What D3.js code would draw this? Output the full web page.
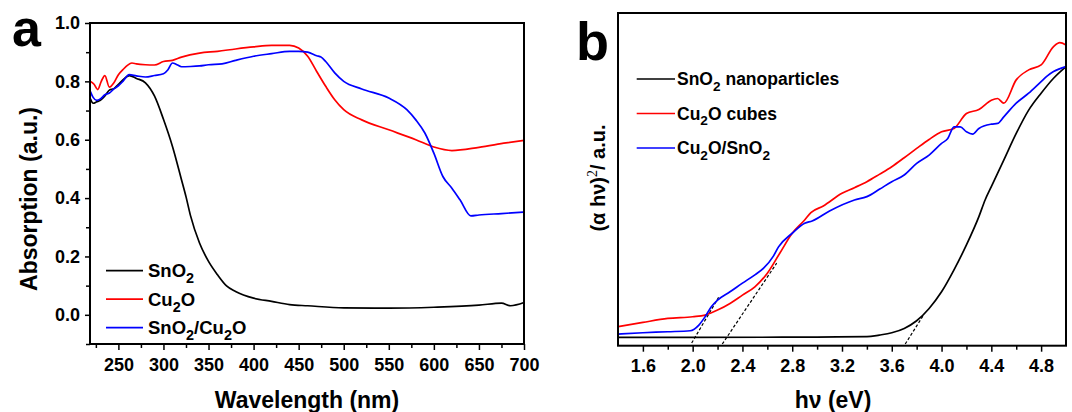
<!DOCTYPE html>
<html>
<head>
<meta charset="utf-8">
<script src="https://cdn.jsdelivr.net/npm/d3@7"></script>
<style>
  body { margin: 0; background: #fff; }
  svg text { font-family: "Liberation Sans", Arial, sans-serif; font-weight: bold; fill: #000; }
</style>
</head>
<body>
<svg id="fig" width="1072" height="412"></svg>
<script>
"use strict";

// ---- panel a: absorption spectra ----
var snWl  = [219,222,226,230,235,240,245,250,255,262,270,280,290,300,310,320,325,330,340,350,360,370,380,400,420,440,460,500,550,600,650,675,685,700];
var snAbs = [0.74,0.725,0.73,0.735,0.75,0.77,0.775,0.79,0.805,0.82,0.81,0.795,0.75,0.67,0.577,0.463,0.405,0.34,0.246,0.183,0.137,0.099,0.08,0.057,0.046,0.035,0.031,0.024,0.023,0.026,0.033,0.04,0.031,0.042];

var cuWl  = [219,223,227,231,235,240,245,250,255,260,265,270,280,290,300,310,320,340,360,380,400,420,440,450,460,470,480,490,500,520,550,580,600,620,650,680,700];
var cuAbs = [0.80,0.79,0.772,0.80,0.82,0.78,0.795,0.823,0.84,0.855,0.863,0.86,0.857,0.856,0.868,0.872,0.883,0.897,0.903,0.911,0.918,0.923,0.923,0.914,0.886,0.834,0.783,0.737,0.703,0.668,0.634,0.60,0.575,0.563,0.574,0.589,0.598];

var mixWl  = [219,222,226,230,235,240,245,250,255,262,270,280,290,300,305,310,315,320,330,340,350,365,380,400,420,440,450,460,470,475,480,490,500,520,550,570,580,590,600,610,620,629,641,650,675,700];
var mixAbs = [0.765,0.745,0.735,0.74,0.754,0.76,0.774,0.785,0.80,0.823,0.819,0.815,0.82,0.826,0.84,0.863,0.857,0.85,0.851,0.853,0.857,0.86,0.872,0.886,0.895,0.903,0.903,0.90,0.888,0.883,0.868,0.829,0.80,0.774,0.743,0.703,0.668,0.623,0.554,0.474,0.434,0.394,0.339,0.342,0.347,0.352];

var aXTicks = [250,300,350,400,450,500,550,600,650,700];
var aYTicks = [0.0,0.2,0.4,0.6,0.8,1.0];

// ---- panel b: Tauc plot ----
var snEv  = [1.4,2.0,3.0,3.4,3.5,3.6,3.7,3.8,3.9,4.0,4.1,4.2,4.3,4.35,4.4,4.5,4.6,4.7,4.8,4.9,5.0];
var snTauc = [0.025,0.025,0.026,0.027,0.032,0.039,0.052,0.075,0.112,0.162,0.228,0.303,0.388,0.438,0.478,0.558,0.638,0.708,0.759,0.804,0.839];

var cuEv   = [1.4,1.6,1.8,2.0,2.1,2.2,2.3,2.4,2.5,2.6,2.7,2.8,2.9,2.95,3.05,3.2,3.3,3.4,3.5,3.6,3.7,3.8,3.9,4.0,4.1,4.2,4.3,4.4,4.45,4.5,4.6,4.7,4.8,4.9,4.95,5.0];
var cuTauc = [0.057,0.070,0.082,0.087,0.092,0.107,0.127,0.152,0.177,0.218,0.278,0.338,0.378,0.40,0.42,0.458,0.475,0.493,0.515,0.538,0.565,0.593,0.62,0.643,0.653,0.698,0.71,0.738,0.743,0.729,0.799,0.829,0.844,0.899,0.911,0.904];

var mixEv   = [1.4,1.6,1.8,1.98,2.05,2.1,2.15,2.2,2.3,2.4,2.5,2.57,2.65,2.69,2.8,2.9,2.96,3.1,3.3,3.4,3.5,3.6,3.7,3.8,3.9,4.0,4.05,4.1,4.15,4.2,4.25,4.3,4.4,4.45,4.5,4.6,4.7,4.8,4.85,4.9,5.0];
var mixTauc = [0.035,0.039,0.042,0.045,0.062,0.087,0.117,0.137,0.162,0.188,0.213,0.233,0.27,0.297,0.338,0.368,0.375,0.405,0.438,0.448,0.47,0.493,0.513,0.548,0.573,0.608,0.623,0.658,0.658,0.643,0.636,0.653,0.666,0.668,0.688,0.729,0.759,0.794,0.811,0.824,0.839];

// band-gap tangent lines (start/end in eV and a.u.)
var tangentEv   = [[1.992,2.211],[2.238,2.675],[3.708,3.855]];
var tangentTauc = [[0.008,0.147],[0.005,0.248],[0.005,0.092]];

var bXTicks = [1.6,2.0,2.4,2.8,3.2,3.6,4.0,4.4,4.8];

var BLACK = "#000000", RED = "#ff0000", BLUE = "#0000ff";

var svg = d3.select("#fig");

function zip(xs, ys) {
  return xs.map(function(x, i) { return [x, ys[i]]; });
}

// text with sub/superscript parts: [["SnO"],["2","sub"]]
function richText(sel, parts, size) {
  parts.forEach(function(p) {
    var t = sel.append("tspan").text(p[0]);
    if (p[1] == "sub") {
      t.attr("font-size", size * 0.78).attr("dy", size * 0.32);
    } else if (p[1] == "sup") {
      t.attr("font-size", size * 0.7).attr("dy", -size * 0.42)
        .style("font-weight", "normal").style("font-family", "'Liberation Serif', serif");
    } else if (p[1] == "back") {
      t.attr("dy", -size * 0.32);
    } else if (p[1] == "down") {
      t.attr("dy", size * 0.42);
    }
  });
  return sel;
}

function drawLine(g, x, y, pts, color) {
  g.append("path")
    .datum(pts)
    .attr("fill", "none")
    .attr("stroke", color)
    .attr("stroke-width", 1.7)
    .attr("stroke-linejoin", "round")
    .attr("d", d3.line().curve(d3.curveMonotoneX)
      .x(function(d) { return x(d[0]); }).y(function(d) { return y(d[1]); }));
}

function styleTicks(s, labels) {
  s.select(".domain").remove();
  s.selectAll("line").attr("stroke-width", 1.5);
  if (labels) s.selectAll("text").attr("font-size", 18).attr("font-family", null);
}

// ================= panel a =================
(function() {
  var L = 90, T = 23, R = 524, B = 344;
  var x = d3.scaleLinear().domain([218.5, 700]).range([L, R]);
  var y = d3.scaleLinear().domain([-0.1, 1.0]).range([B, T]);
  var g = svg.append("g");

  // minor ticks
  g.append("g").attr("transform", "translate(0," + B + ")")
    .call(d3.axisBottom(x).tickValues(d3.range(225, 700, 50)).tickSize(4).tickFormat(""))
    .call(styleTicks, false);
  g.append("g").attr("transform", "translate(" + L + ",0)")
    .call(d3.axisLeft(y).tickValues([-0.1,0.1,0.3,0.5,0.7,0.9]).tickSize(4).tickFormat(""))
    .call(styleTicks, false);

  // major ticks
  g.append("g").attr("transform", "translate(0," + B + ")")
    .call(d3.axisBottom(x).tickValues(aXTicks).tickSize(6).tickPadding(8).tickFormat(d3.format("d")))
    .call(styleTicks, true);
  g.append("g").attr("transform", "translate(" + L + ",0)")
    .call(d3.axisLeft(y).tickValues(aYTicks).tickSize(5).tickPadding(5).tickFormat(d3.format(".1f")))
    .call(styleTicks, true);

  drawLine(g, x, y, zip(snWl, snAbs), BLACK);
  drawLine(g, x, y, zip(cuWl, cuAbs), RED);
  drawLine(g, x, y, zip(mixWl, mixAbs), BLUE);

  g.append("rect").attr("x", L).attr("y", T).attr("width", R - L).attr("height", B - T)
    .attr("fill", "none").attr("stroke", "#000").attr("stroke-width", 2);

  // legend
  var legend = [
    { color: BLACK, parts: [["SnO"],["2","sub"]] },
    { color: RED,   parts: [["Cu"],["2","sub"],["O","back"]] },
    { color: BLUE,  parts: [["SnO"],["2","sub"],["/Cu","back"],["2","sub"],["O","back"]] }
  ];
  legend.forEach(function(d, i) {
    var yy = 270.7 + i * 28.5;
    g.append("line").attr("x1", 106).attr("x2", 143).attr("y1", yy).attr("y2", yy)
      .attr("stroke", d.color).attr("stroke-width", 1.7);
    richText(g.append("text").attr("x", 148).attr("y", yy + 6.5).attr("font-size", 18.5), d.parts, 18.5);
  });

  g.append("text").attr("x", 307).attr("y", 408).attr("text-anchor", "middle")
    .attr("font-size", 23).text("Wavelength (nm)");
  g.append("text").attr("transform", "translate(37,199) rotate(-90)").attr("text-anchor", "middle")
    .attr("font-size", 23).text("Absorption (a.u.)");
  g.append("text").attr("x", 12).attr("y", 46).attr("font-size", 52).text("a");
})();

// ================= panel b =================
(function() {
  var L = 618, T = 13, R = 1066, B = 345.7;
  var x = d3.scaleLinear().domain([1.4, 5.0]).range([L, R]);
  var y = d3.scaleLinear().domain([0, 1]).range([B, T]);
  var g = svg.append("g");

  g.append("g").attr("transform", "translate(0," + B + ")")
    .call(d3.axisBottom(x).tickValues(d3.range(1.8, 5.0, 0.4)).tickSize(4).tickFormat(""))
    .call(styleTicks, false);
  g.append("g").attr("transform", "translate(0," + B + ")")
    .call(d3.axisBottom(x).tickValues(bXTicks).tickSize(6).tickPadding(8).tickFormat(d3.format(".1f")))
    .call(styleTicks, true);

  // tangents
  tangentEv.forEach(function(ev, i) {
    g.append("line")
      .attr("x1", x(ev[0])).attr("y1", y(tangentTauc[i][0]))
      .attr("x2", x(ev[1])).attr("y2", y(tangentTauc[i][1]))
      .attr("stroke", "#000").attr("stroke-width", 1.2).attr("stroke-dasharray", "3,2");
  });

  drawLine(g, x, y, zip(snEv, snTauc), BLACK);
  drawLine(g, x, y, zip(cuEv, cuTauc), RED);
  drawLine(g, x, y, zip(mixEv, mixTauc), BLUE);

  g.append("rect").attr("x", L).attr("y", T).attr("width", R - L).attr("height", B - T)
    .attr("fill", "none").attr("stroke", "#000").attr("stroke-width", 2);

  var legend = [
    { color: BLACK, parts: [["SnO"],["2","sub"],[" nanoparticles","back"]] },
    { color: RED,   parts: [["Cu"],["2","sub"],["O cubes","back"]] },
    { color: BLUE,  parts: [["Cu"],["2","sub"],["O/SnO","back"],["2","sub"]] }
  ];
  legend.forEach(function(d, i) {
    var yy = 79 + i * 34.5;
    g.append("line").attr("x1", 636.7).attr("x2", 675).attr("y1", yy).attr("y2", yy)
      .attr("stroke", d.color).attr("stroke-width", 1.7);
    richText(g.append("text").attr("x", 677).attr("y", yy + 6).attr("font-size", 17.5), d.parts, 17.5);
  });

  g.append("text").attr("x", 833).attr("y", 408).attr("text-anchor", "middle")
    .attr("font-size", 23).text("h\u03BD (eV)");
  var yl = g.append("text").attr("transform", "translate(605,178) rotate(-90)").attr("text-anchor", "middle")
    .attr("font-size", 20);
  richText(yl, [["(\u03B1 h\u03BD)"],["2","sup"],["/ a.u.","down"]], 20);
  g.append("text").attr("x", 576).attr("y", 60).attr("font-size", 54).text("b");
})();
</script>
</body>
</html>
